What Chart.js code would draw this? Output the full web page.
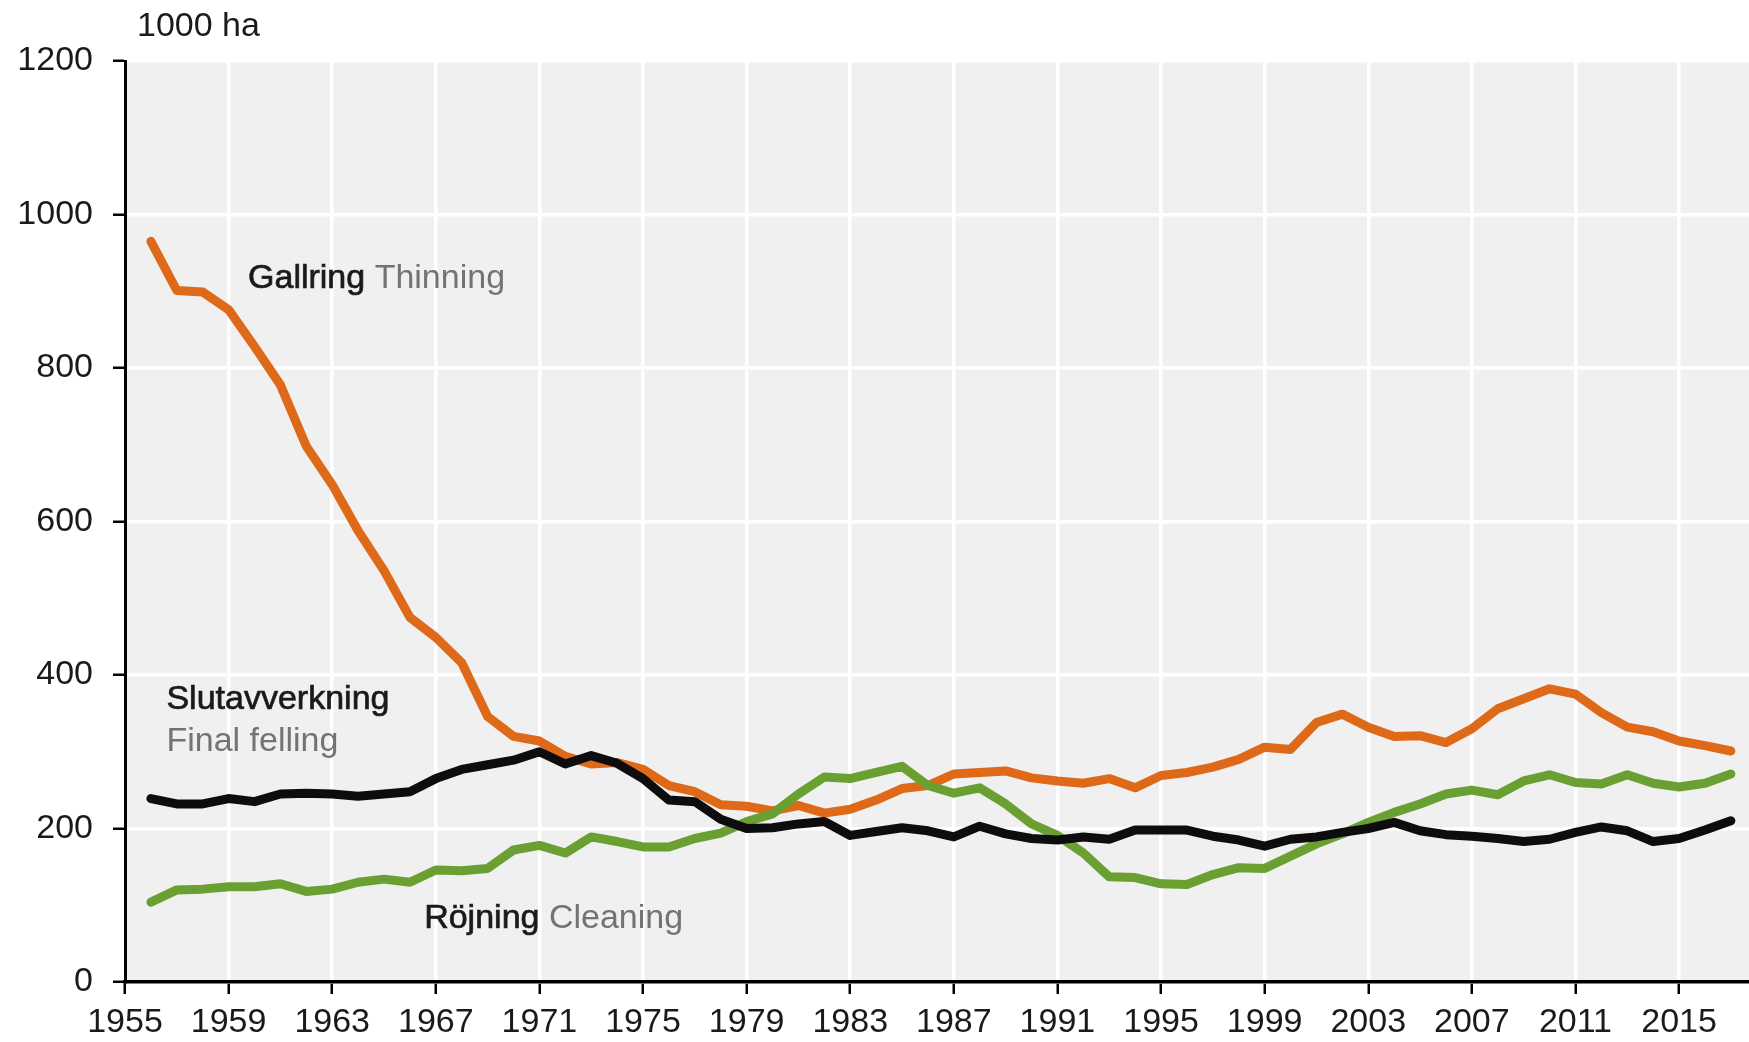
<!DOCTYPE html>
<html>
<head>
<meta charset="utf-8">
<title>Gallring, slutavverkning, röjning</title>
<script src="https://cdn.jsdelivr.net/npm/chart.js@4/dist/chart.umd.min.js"></script>
<style>
  html, body { margin: 0; padding: 0; background: #fff; }
  canvas { display: block; }
</style>
</head>
<body>
<canvas id="chart" width="1749" height="1042"></canvas>
<script>
// years 1956-2017, values in 1000 ha
const years = [1956, 1957, 1958, 1959, 1960, 1961, 1962, 1963, 1964, 1965, 1966, 1967, 1968, 1969, 1970,
  1971, 1972, 1973, 1974, 1975, 1976, 1977, 1978, 1979, 1980, 1981, 1982, 1983, 1984, 1985, 1986, 1987,
  1988, 1989, 1990, 1991, 1992, 1993, 1994, 1995, 1996, 1997, 1998, 1999, 2000, 2001, 2002, 2003, 2004,
  2005, 2006, 2007, 2008, 2009, 2010, 2011, 2012, 2013, 2014, 2015, 2016, 2017];

const thinning = [965, 901, 899, 876, 828, 778, 698, 648, 588, 536, 475, 449, 416, 346, 320,
  314, 294, 284, 286, 277, 256, 248, 231, 229, 223, 230, 220, 225, 237, 252, 256, 271,
  273, 275, 266, 262, 259, 265, 253, 269, 273, 280, 290, 306, 303, 338, 349, 332, 320,
  321, 312, 330, 356, 369, 382, 375, 351, 332, 326, 314, 308, 301];

const finalFelling = [239, 232, 232, 239, 235, 245, 246, 245, 242, 245, 248, 265, 277, 283, 289,
  300, 284, 295, 285, 265, 237, 235, 212, 200, 201, 206, 209, 191, 196, 201, 197, 189,
  203, 193, 187, 185, 189, 186, 198, 198, 198, 190, 185, 177, 186, 189, 195, 200, 208,
  197, 192, 190, 187, 183, 186, 195, 202, 197, 183, 187, 198, 210];

const cleaning = [104, 120, 121, 124, 124, 128, 118, 121, 130, 134, 130, 146, 145, 148, 172,
  178, 168, 189, 183, 176, 176, 187, 194, 209, 219, 245, 267, 265, 273, 281, 256, 246,
  253, 232, 206, 191, 168, 137, 136, 128, 127, 140, 149, 148, 164, 180, 193, 208, 221,
  232, 245, 250, 244, 262, 270, 260, 258, 270, 259, 254, 259, 271];

const xTicks = [1955, 1959, 1963, 1967, 1971, 1975, 1979, 1983, 1987, 1991, 1995, 1999, 2003, 2007, 2011, 2015];
const yTicks = [0, 200, 400, 600, 800, 1000, 1200];
const unitLabel = '1000 ha';

// in-chart labels: swedish name in black, english in grey, placed in data coords
const seriesLabels = [
  { sv: 'Gallring', en: 'Thinning', x: 1959.75, y: 917, stacked: false },
  { sv: 'Slutavverkning', en: 'Final felling', x: 1956.6, y: 368, stacked: true },
  { sv: 'Röjning', en: 'Cleaning', x: 1966.55, y: 82, stacked: false }
];

const FONT = '"Liberation Sans", Arial, Helvetica, sans-serif';
const FONT_SIZE = 34;
const TEXT = '#1a1a1a';
const GREY = '#737373';

const toPoints = (vals) => vals.map((v, i) => ({ x: years[i], y: v }));

const panelPlugin = {
  id: 'panel',
  beforeDraw(chart) {
    const { ctx, chartArea: a } = chart;
    ctx.save();
    ctx.fillStyle = '#f0f0f0';
    ctx.fillRect(a.left, a.top, a.right - a.left, a.bottom - a.top);
    ctx.restore();
  },
  afterDraw(chart) {
    const { ctx, chartArea: a, scales } = chart;
    ctx.save();
    ctx.font = FONT_SIZE + 'px ' + FONT;
    ctx.textBaseline = 'middle';
    ctx.textAlign = 'left';
    ctx.fillStyle = TEXT;
    ctx.fillText(unitLabel, a.left + 12, a.top - 34);

    seriesLabels.forEach(l => {
      const px = scales.x.getPixelForValue(l.x);
      const py = scales.y.getPixelForValue(l.y);
      // black names look a touch heavier in the original, fake a medium weight
      ctx.fillStyle = TEXT;
      ctx.strokeStyle = TEXT;
      ctx.lineWidth = 0.7;
      ctx.fillText(l.sv, px, py);
      ctx.strokeText(l.sv, px, py);
      ctx.fillStyle = GREY;
      if (l.stacked) {
        ctx.fillText(l.en, px, py + 42);
      } else {
        ctx.fillText(' ' + l.en, px + ctx.measureText(l.sv).width, py);
      }
    });
    ctx.restore();
  }
};

const lineStyle = {
  borderWidth: 9,
  pointRadius: 0,
  borderCapStyle: 'round',
  borderJoinStyle: 'round',
  tension: 0,
  fill: false
};

const gridStyle = {
  color: '#ffffff',
  lineWidth: 3.5,
  tickColor: '#000000',
  tickWidth: 2.5,
  tickLength: 12
};

new Chart(document.getElementById('chart'), {
  type: 'line',
  data: {
    datasets: [
      // first dataset is drawn on top
      Object.assign({ label: 'Slutavverkning', data: toPoints(finalFelling), borderColor: '#0d0d0d' }, lineStyle),
      Object.assign({ label: 'Röjning', data: toPoints(cleaning), borderColor: '#6a9f32' }, lineStyle),
      Object.assign({ label: 'Gallring', data: toPoints(thinning), borderColor: '#de6918' }, lineStyle)
    ]
  },
  options: {
    responsive: false,
    animation: false,
    devicePixelRatio: 1,
    layout: { padding: { top: 61, right: 0, left: 0, bottom: 0 } },
    plugins: { legend: { display: false }, tooltip: { enabled: false } },
    scales: {
      x: {
        type: 'linear',
        min: 1955,
        max: 2017.7,
        afterBuildTicks: s => { s.ticks = xTicks.map(v => ({ value: v })); },
        afterFit: s => { s.height = 60; },
        grid: gridStyle,
        border: { color: '#000000', width: 3.5 },
        ticks: {
          autoSkip: false,
          maxRotation: 0,
          padding: 8,
          color: TEXT,
          font: { family: FONT, size: FONT_SIZE },
          callback: v => String(v)
        }
      },
      y: {
        min: 0,
        max: 1200,
        afterBuildTicks: s => { s.ticks = yTicks.map(v => ({ value: v })); },
        afterFit: s => { s.width = 125; },
        grid: gridStyle,
        border: { color: '#000000', width: 3 },
        ticks: {
          padding: 20,
          color: TEXT,
          font: { family: FONT, size: FONT_SIZE },
          callback: v => String(v)
        }
      }
    }
  },
  plugins: [panelPlugin]
});
</script>
</body>
</html>
